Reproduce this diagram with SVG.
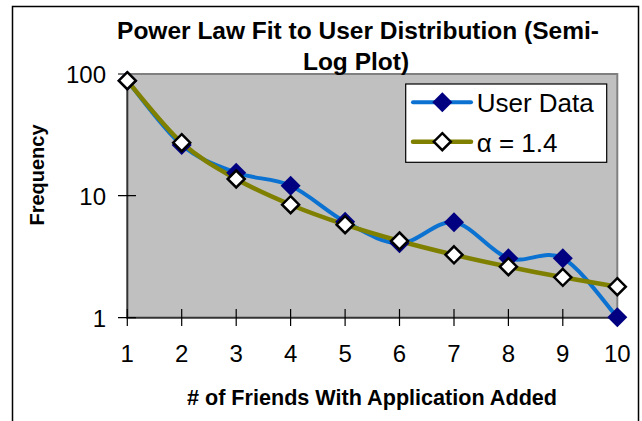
<svg xmlns="http://www.w3.org/2000/svg" width="642" height="421" viewBox="0 0 642 421">
<style>
text{font-family:"Liberation Sans",Arial,sans-serif;fill:#000}
.title{font-size:24.5px;font-weight:bold;text-anchor:middle}
.axt{font-size:21.6px;font-weight:bold;text-anchor:middle}
.ylab{font-size:20px;font-weight:bold;text-anchor:middle}
.tick{font-size:24px}
.leg{font-size:26px}
.ud{fill:none;stroke:#0B72D2;stroke-width:4;stroke-linejoin:round;stroke-linecap:round}
.fit{fill:none;stroke:#808000;stroke-width:4.5;stroke-linejoin:round;stroke-linecap:round}
.tk{stroke:#000;stroke-width:1.2}
</style>
<defs>
<path id="mu" d="M0,-10 L10,0 L0,10 L-10,0Z" fill="#000080"/>
<path id="mf" d="M0,-8.5 L8.5,0 L0,8.5 L-8.5,0Z" fill="#fff" stroke="#000" stroke-width="2.5" stroke-linejoin="miter"/>
</defs>
<rect x="0" y="0" width="642" height="421" fill="#fff"/>
<rect id="frame" x="12.5" y="6.5" width="626" height="430" fill="none" stroke="#000" stroke-width="1.5"/>
<g id="plotarea">
<rect x="127.3" y="74" width="490" height="243.7" fill="#C0C0C0"/>
<path d="M127.3,74 H617.3 V317.7" fill="none" stroke="#808080" stroke-width="2"/>
</g>
<g id="title">
<text class="title" x="358" y="39">Power Law Fit to User Distribution (Semi-</text>
<text class="title" x="356" y="70">Log Plot)</text>
</g>
<g id="axes">
<path d="M127.3,74 V317.7 H617.3" fill="none" stroke="#333" stroke-width="2"/>
<path class="tk" d="M118,74 H127.3 M118,195.7 H136 M118,317.7 H136"/>
<path class="tk" d="M127.3,309 V326 M181.7,309 V326 M236.2,309 V326 M290.6,309 V326 M345.1,309 V326 M399.5,309 V326 M454,309 V326 M508.4,309 V326 M562.8,309 V326 M617.3,309 V326"/>
<g class="tick" text-anchor="end">
<text x="106" y="83">100</text>
<text x="106" y="204.5">10</text>
<text x="106" y="326.5">1</text>
</g>
<g class="tick" text-anchor="middle">
<text x="127.3" y="362">1</text>
<text x="181.7" y="362">2</text>
<text x="236.2" y="362">3</text>
<text x="290.6" y="362">4</text>
<text x="345.1" y="362">5</text>
<text x="399.5" y="362">6</text>
<text x="454" y="362">7</text>
<text x="508.4" y="362">8</text>
<text x="562.8" y="362">9</text>
<text x="617.3" y="362">10</text>
</g>
<text class="axt" x="372" y="405"># of Friends With Application Added</text>
<text class="ylab" transform="translate(44,175) rotate(-90)" x="0" y="0">Frequency</text>
</g>
<g id="connectors">
<path class="ud" d="M127.3,80.7 C136.4,91.4 163.5,129.7 181.7,145 C199.9,160.3 218.1,165.9 236.2,172.7 C254.3,179.5 272.5,177.5 290.6,185.7 C308.8,193.9 327,212.1 345.1,221.7 C363.3,231.3 381.4,243.2 399.5,243.3 C417.7,243.4 435.9,219.8 454,222.3 C472.2,224.8 490.3,252.3 508.4,258.3 C526.6,264.3 544.7,248.5 562.8,258.3 C581,268.1 608.2,307.5 617.3,317.3"/>
<path class="fit" d="M127.3,80.7 C136.4,91 163.5,126.3 181.7,142.7 C199.9,159.1 218.1,168.7 236.2,179 C254.3,189.3 272.5,197.1 290.6,204.7 C308.8,212.3 327,218.7 345.1,224.7 C363.3,230.8 381.4,236 399.5,241 C417.7,246 435.9,250.5 454,254.8 C472.2,259.1 490.3,263 508.4,266.7 C526.6,270.5 544.7,274 562.8,277.3 C581,280.6 608.2,285.1 617.3,286.7"/>
</g>
<g id="series-user-data">
<use href="#mu" x="127.3" y="80.7"/>
<use href="#mu" x="181.7" y="145"/>
<use href="#mu" x="236.2" y="172.7"/>
<use href="#mu" x="290.6" y="185.7"/>
<use href="#mu" x="345.1" y="221.7"/>
<use href="#mu" x="399.5" y="243.3"/>
<use href="#mu" x="454" y="222.3"/>
<use href="#mu" x="508.4" y="258.3"/>
<use href="#mu" x="562.8" y="258.3"/>
<use href="#mu" x="617.3" y="317.3"/>
</g>
<g id="series-fit">
<use href="#mf" x="127.3" y="80.7"/>
<use href="#mf" x="181.7" y="142.7"/>
<use href="#mf" x="236.2" y="179"/>
<use href="#mf" x="290.6" y="204.7"/>
<use href="#mf" x="345.1" y="224.7"/>
<use href="#mf" x="399.5" y="241"/>
<use href="#mf" x="454" y="254.8"/>
<use href="#mf" x="508.4" y="266.7"/>
<use href="#mf" x="562.8" y="277.3"/>
<use href="#mf" x="617.3" y="286.7"/>
</g>
<g id="legend">
<rect x="405.7" y="84" width="201" height="78.3" fill="#fff" stroke="#000" stroke-width="1.2"/>
<path class="ud" d="M413,102.3 H471"/>
<use href="#mu" x="442.3" y="102.3"/>
<text class="leg" x="476.7" y="112.3">User Data</text>
<path class="fit" d="M413,141.7 H471"/>
<use href="#mf" x="442.3" y="141.7"/>
<text class="leg" x="476.7" y="152.3">α = 1.4</text>
</g>
</svg>
